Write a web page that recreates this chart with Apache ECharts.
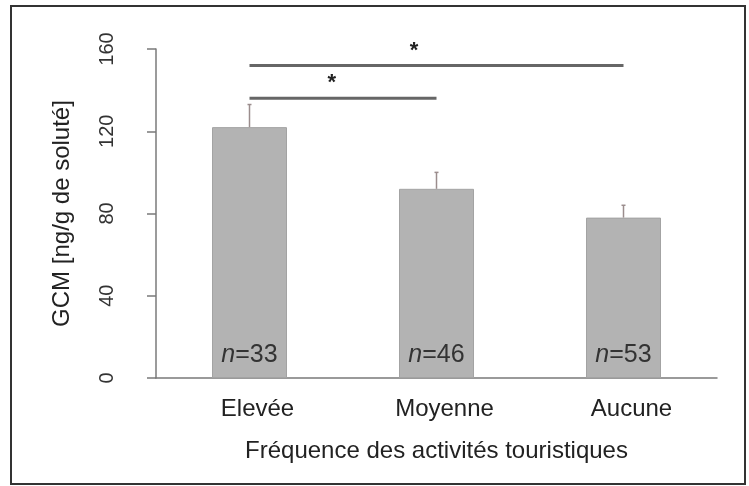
<!DOCTYPE html>
<html>
<head>
<meta charset="utf-8">
<script src="https://cdn.jsdelivr.net/npm/echarts@6/dist/echarts.min.js"></script>
<style>
  html, body { margin: 0; padding: 0; background: #fff; }
  #chart { width: 749px; height: 486px; }
</style>
</head>
<body>
<div id="chart"></div>
<script>
// data
const categories = ['Elevée', 'Moyenne', 'Aucune'];
const means = [122, 92, 78];
const errTop = [133, 100, 84];
const nSizes = [33, 46, 53];
// significance brackets: [from category, to category, y level]
const sigPairs = [[0, 2, 152], [0, 1, 136]];
const yTicks = [0, 40, 80, 120, 160];

const font = 'Liberation Sans, Arial, sans-serif';
const chart = echarts.init(document.getElementById('chart'));

chart.setOption({
  animation: false,
  graphic: [{
    type: 'rect',
    shape: { x: 11, y: 6, width: 734, height: 478 },
    style: { fill: 'none', stroke: '#333', lineWidth: 2 },
    z: -1
  }],
  grid: { left: 156, right: 32, top: 49, bottom: 108 },
  xAxis: {
    type: 'category',
    data: categories,
    name: 'Fréquence des activités touristiques',
    nameLocation: 'middle',
    nameGap: 61,
    nameTextStyle: { fontFamily: font, fontSize: 24, color: '#222' },
    axisLine: { lineStyle: { color: '#7a7a7a', width: 1.5 } },
    axisTick: { length: 9, lineStyle: { color: '#7a7a7a', width: 1.5 } },
    axisLabel: { fontFamily: font, fontSize: 24, color: '#222', margin: 19, padding: [0, 0, 0, 16] }
  },
  yAxis: {
    type: 'value',
    min: yTicks[0],
    max: yTicks[yTicks.length - 1],
    interval: 40,
    name: 'GCM [ng/g de soluté]',
    nameLocation: 'middle',
    nameGap: 82,
    nameTextStyle: { fontFamily: font, fontSize: 24, color: '#222' },
    splitLine: { show: false },
    axisLine: { show: true, lineStyle: { color: '#7a7a7a', width: 1.5 } },
    axisTick: { show: true, length: 9, lineStyle: { color: '#7a7a7a', width: 1.5 } },
    axisLabel: { fontFamily: font, fontSize: 20, color: '#333', rotate: 90, margin: 39 }
  },
  series: [
    {
      type: 'bar',
      data: means,
      barWidth: 75,
      itemStyle: { color: '#b3b3b3', borderColor: '#a3a3a3', borderWidth: 1 },
      label: {
        show: true,
        position: 'insideBottom',
        distance: 10,
        fontFamily: font,
        fontSize: 25,
        color: '#333',
        formatter: p => '{i|n}=' + nSizes[p.dataIndex],
        rich: { i: { fontStyle: 'italic', fontFamily: font, fontSize: 25, color: '#333' } }
      }
    },
    {
      type: 'custom',
      data: means.map((m, i) => [i, m, errTop[i]]),
      renderItem: (params, api) => {
        const lo = api.coord([api.value(0), api.value(1)]);
        const hi = api.coord([api.value(0), api.value(2)]);
        const st = { stroke: '#9b8d8d', lineWidth: 1.5 };
        return {
          type: 'group',
          children: [
            { type: 'line', shape: { x1: lo[0], y1: lo[1], x2: hi[0], y2: hi[1] }, style: st },
            { type: 'line', shape: { x1: hi[0] - 2, y1: hi[1], x2: hi[0] + 2, y2: hi[1] }, style: st }
          ]
        };
      },
      z: 3
    },
    {
      type: 'custom',
      data: sigPairs,
      clip: false,
      renderItem: (params, api) => {
        const a = api.coord([api.value(0), api.value(2)]);
        const b = api.coord([api.value(1), api.value(2)]);
        const sx = a[0] + (b[0] - a[0]) * 0.44;
        return {
          type: 'group',
          children: [
            { type: 'line', shape: { x1: a[0], y1: a[1], x2: b[0], y2: b[1] },
              style: { stroke: '#666', lineWidth: 3 } },
            { type: 'text', x: sx, y: a[1] - 15,
              style: { text: '*', fontFamily: font, fontSize: 22, fontWeight: 'bold',
                       fill: '#222', align: 'center', verticalAlign: 'middle' } }
          ]
        };
      }
    }
  ]
});
</script>
</body>
</html>
